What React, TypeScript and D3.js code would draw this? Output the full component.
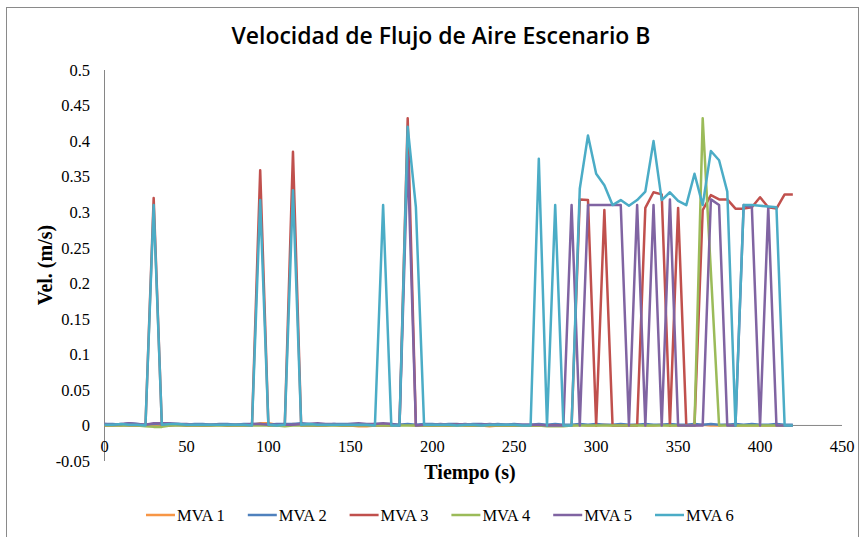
import React from "react";
import * as d3 from "d3";

const TIME = [
  0, 5, 10, 15, 20, 25, 30, 35, 40, 45, 50, 55, 60, 65, 70, 75, 80, 85, 90, 95,
  100, 105, 110, 115, 120, 125, 130, 135, 140, 145, 150, 155, 160, 165, 170, 175, 180, 185, 190, 195,
  200, 205, 210, 215, 220, 225, 230, 235, 240, 245, 250, 255, 260, 265, 270, 275, 280, 285, 290, 295,
  300, 305, 310, 315, 320, 325, 330, 335, 340, 345, 350, 355, 360, 365, 370, 375, 380, 385, 390, 395,
  400, 405, 410, 415, 420,
];

const MVA1 = [
  0.001, 0.001, 0.0, 0.001, 0.001, 0.0, 0.001, 0.002, 0.001, 0.001,
  0.0, 0.001, 0.0, 0.001, 0.001, 0.0, 0.001, 0.001, 0.001, 0.003,
  0.003, 0.001, 0.0, 0.002, 0.001, 0.001, 0.0, 0.001, 0.001, 0.0,
  0.0, -0.001, -0.001, 0.0, 0.001, 0.0, 0.001, 0.001, 0.0, 0.001,
  0.0, 0.001, 0.0, 0.0, 0.001, 0.0, 0.0, -0.001, 0.0, 0.0,
  0.0, 0.0, 0.0, 0.001, 0.0, 0.001, 0.0, 0.0, 0.001, 0.0,
  0.0, 0.001, 0.0, 0.0, 0.0, 0.001, 0.0, 0.0, 0.001, 0.0,
  0.0, 0.0, 0.0, 0.001, 0.0, 0.0, 0.001, 0.0, 0.0, 0.0,
  0.0, 0.0, 0.0, 0.0, 0.0,
];

const MVA2 = [
  0.002, 0.002, 0.001, 0.003, 0.002, 0.001, 0.002, 0.003, 0.002, 0.002,
  0.001, 0.002, 0.002, 0.001, 0.002, 0.002, 0.001, 0.002, 0.002, 0.002,
  0.001, 0.002, 0.002, 0.002, 0.003, 0.002, 0.002, 0.001, 0.002, 0.002,
  0.002, 0.002, 0.001, 0.002, 0.002, 0.002, 0.001, 0.002, 0.001, 0.002,
  0.002, 0.001, 0.002, 0.002, 0.001, 0.002, 0.002, 0.001, 0.002, 0.001,
  0.002, 0.001, 0.001, 0.002, 0.001, 0.002, 0.001, 0.001, 0.002, 0.001,
  0.002, 0.001, 0.001, 0.002, 0.001, 0.001, 0.002, 0.001, 0.001, 0.002,
  0.001, 0.001, 0.002, 0.001, 0.002, 0.001, 0.001, 0.002, 0.001, 0.002,
  0.001, 0.001, 0.002, 0.001, 0.001,
];

const MVA3 = [
  0.0, 0.0, 0.001, 0.0, 0.0, 0.0, 0.32, 0.0, 0.0, 0.001,
  0.0, 0.0, 0.0, 0.0, 0.001, 0.0, 0.0, 0.0, 0.0, 0.359,
  0.0, 0.0, 0.0, 0.385, 0.0, 0.0, 0.0, 0.0, 0.001, 0.0,
  0.0, 0.0, 0.0, 0.0, 0.0, 0.0, 0.0, 0.432, 0.0, 0.0,
  0.0, 0.0, 0.0, 0.001, 0.0, 0.0, 0.0, 0.0, 0.0, 0.0,
  0.0, 0.0, 0.0, 0.0, 0.0, 0.0, 0.0, 0.0, 0.318, 0.317,
  0.0, 0.303, 0.0, 0.0, 0.0, 0.0, 0.306, 0.328, 0.325, 0.0,
  0.306, 0.0, 0.0, 0.303, 0.324, 0.318, 0.318, 0.305, 0.305, 0.307,
  0.321, 0.307, 0.305, 0.325, 0.325,
];

const MVA4 = [
  0.0, 0.0, 0.0, 0.0, 0.0, -0.001, -0.002, -0.002, 0.0, 0.0,
  0.0, 0.0, 0.0, 0.0, 0.0, 0.0, 0.0, 0.0, 0.0, 0.0,
  0.0, 0.0, -0.001, 0.0, 0.0, 0.0, 0.0, 0.0, 0.0, 0.0,
  0.0, 0.0, 0.0, 0.0, 0.0, 0.0, 0.0, 0.0, 0.0, 0.0,
  0.0, 0.0, 0.0, 0.0, 0.0, 0.0, 0.0, 0.0, 0.0, 0.0,
  0.0, 0.0, 0.0, 0.0, -0.001, -0.001, -0.001, 0.0, 0.0, 0.0,
  0.0, 0.0, 0.0, 0.0, 0.0, 0.0, 0.0, 0.0, 0.0, 0.0,
  0.0, 0.0, 0.0, 0.432, 0.216, 0.0, 0.0, 0.0, 0.0, 0.0,
  0.0, 0.0, 0.0, 0.0, 0.0,
];

const MVA5 = [
  0.002, 0.001, 0.002, 0.003, 0.002, 0.001, 0.003, 0.003, 0.003, 0.002,
  0.002, 0.001, 0.001, 0.001, 0.001, 0.001, 0.001, 0.001, 0.002, 0.002,
  0.001, 0.001, 0.001, 0.001, 0.002, 0.002, 0.003, 0.002, 0.002, 0.001,
  0.002, 0.003, 0.002, 0.002, 0.003, 0.002, 0.0, 0.38, 0.0, 0.001,
  0.001, 0.002, 0.001, 0.001, 0.002, 0.001, 0.001, 0.002, 0.001, 0.001,
  0.001, 0.001, 0.001, 0.001, 0.0, 0.0, 0.0, 0.31, 0.0, 0.31,
  0.31, 0.31, 0.31, 0.31, 0.0, 0.31, 0.0, 0.31, 0.0, 0.318,
  0.0, 0.0, 0.0, 0.0, 0.318, 0.31, 0.0, 0.0, 0.31, 0.307,
  0.0, 0.307, 0.0, 0.0, 0.0,
];

const MVA6 = [
  0.001, 0.001, 0.002, 0.001, 0.001, 0.0, 0.31, 0.001, 0.002, 0.002,
  0.001, 0.001, 0.001, 0.001, 0.001, 0.001, 0.001, 0.001, 0.0, 0.317,
  0.001, 0.0, 0.001, 0.331, 0.001, 0.002, 0.001, 0.001, 0.001, 0.001,
  0.001, 0.001, 0.001, 0.0, 0.31, 0.0, 0.0, 0.42, 0.307, 0.001,
  0.001, 0.001, 0.001, 0.0, 0.001, 0.001, 0.0, 0.001, 0.001, 0.001,
  0.001, 0.0, 0.0, 0.375, 0.0, 0.31, 0.0, 0.0, 0.333, 0.408,
  0.354, 0.338, 0.31, 0.317, 0.309, 0.317, 0.329, 0.4, 0.317, 0.328,
  0.316, 0.31, 0.354, 0.31, 0.386, 0.373, 0.329, 0.0, 0.31, 0.31,
  0.309, 0.308, 0.307, 0.0, 0.0,
];

const SERIES_NAMES = ["MVA 1", "MVA 2", "MVA 3", "MVA 4", "MVA 5", "MVA 6"];
const SERIES_VALUES = [MVA1, MVA2, MVA3, MVA4, MVA5, MVA6];
const SERIES_COLORS = ["#F79646", "#4F81BD", "#C0504D", "#9BBB59", "#8064A2", "#4BACC6"];

const X_TICKS = [0, 50, 100, 150, 200, 250, 300, 350, 400, 450];
const Y_TICKS = [-0.05, 0, 0.05, 0.1, 0.15, 0.2, 0.25, 0.3, 0.35, 0.4, 0.45, 0.5];
const Y_TICK_LABELS = ["-0.05", "0", "0.05", "0.1", "0.15", "0.2", "0.25", "0.3", "0.35", "0.4", "0.45", "0.5"];

const TITLE = "Velocidad de Flujo de Aire Escenario B";
const X_TITLE = "Tiempo (s)";
const Y_TITLE = "Vel. (m/s)";

export default function App() {
  const W = 867;
  const H = 537;
  const x = d3.scaleLinear().domain([0, 450]).range([104.5, 842]);
  const y = d3.scaleLinear().domain([-0.05, 0.5]).range([461, 70]);
  const serif = "'Liberation Serif', 'Times New Roman', serif";

  const lineGen = (vals: number[]) =>
    d3
      .line<number>()
      .x((_, i) => x(TIME[i]))
      .y((v) => y(v))(vals) || "";

  return (
    <svg
      width={W}
      height={H}
      style={{ position: "absolute", left: 0, top: 0, background: "#fff" }}
    >
      <rect x={0} y={0} width={W} height={H} fill="#fff" />
      <rect x={6.5} y={7.5} width={852} height={560} fill="none" stroke="#8a8a8a" strokeWidth={1} />

      <text
        x={441}
        y={44}
        textAnchor="middle"
        fontFamily="'Open Sans', 'Noto Sans', sans-serif"
        fontWeight={600}
        fontSize={23}
        textLength={419}
        lengthAdjust="spacingAndGlyphs"
        fill="#000"
      >
        {TITLE}
      </text>

      {/* axes */}
      <line x1={x(0)} x2={x(0)} y1={y(0.5)} y2={y(-0.05)} stroke="#868686" strokeWidth={1} />
      <line x1={x(0)} x2={x(450)} y1={y(0)} y2={y(0)} stroke="#868686" strokeWidth={1} />

      {Y_TICKS.map((t, i) => (
        <text
          key={"yt" + i}
          x={90}
          y={y(t)}
          dy="0.35em"
          textAnchor="end"
          fontFamily={serif}
          fontSize={16.5}
          fill="#000"
        >
          {Y_TICK_LABELS[i]}
        </text>
      ))}
      {X_TICKS.map((t) => (
        <text
          key={"xt" + t}
          x={x(t)}
          y={y(0) + 27}
          textAnchor="middle"
          fontFamily={serif}
          fontSize={16.5}
          fill="#000"
        >
          {t}
        </text>
      ))}

      <text
        x={470}
        y={479}
        textAnchor="middle"
        fontFamily={serif}
        fontWeight={700}
        fontSize={20}
        fill="#000"
      >
        {X_TITLE}
      </text>
      <text
        transform={`translate(52, 265) rotate(-90)`}
        textAnchor="middle"
        fontFamily={serif}
        fontWeight={700}
        fontSize={20}
        fill="#000"
      >
        {Y_TITLE}
      </text>

      {SERIES_VALUES.map((vals, i) => (
        <path
          key={"s" + i}
          d={lineGen(vals)}
          fill="none"
          stroke={SERIES_COLORS[i]}
          strokeWidth={2.5}
          strokeLinejoin="round"
        />
      ))}

      {SERIES_NAMES.map((name, i) => {
        const lx = 146 + i * 101.8;
        return (
          <g key={"lg" + i}>
            <line x1={lx} x2={lx + 29} y1={515} y2={515} stroke={SERIES_COLORS[i]} strokeWidth={2.5} />
            <text x={lx + 31} y={520.5} fontFamily={serif} fontSize={16.5} fill="#000">
              {name}
            </text>
          </g>
        );
      })}
    </svg>
  );
}
